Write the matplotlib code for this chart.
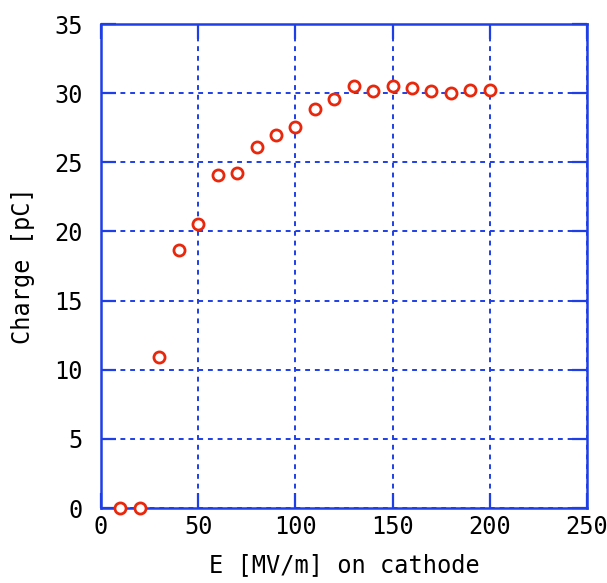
import matplotlib
matplotlib.use("Agg")
import matplotlib.pyplot as plt

E_field = [10, 20, 30, 40, 50, 60, 70, 80, 90, 100, 110, 120, 130, 140, 150, 160, 170, 180, 190, 200]
charge = [0.0, 0.0, 10.9, 18.65, 20.55, 24.1, 24.25, 26.1, 27.0, 27.55, 28.85, 29.6, 30.5, 30.15, 30.55,
          30.35, 30.15, 30.0, 30.2, 30.2]
x_ticks = [0, 50, 100, 150, 200, 250]
y_ticks = [0, 5, 10, 15, 20, 25, 30, 35]

blue = '#1f3fe6'
red = '#e8280c'

fig = plt.figure(figsize=(6.07, 5.83), dpi=100)
ax = fig.add_axes([0.1664, 0.1286, 0.967 - 0.1664, 0.9588 - 0.1286])

ax.plot(E_field, charge, linestyle='none', marker='o', markersize=8,
        markerfacecolor='white', markeredgecolor=red, markeredgewidth=2.0, zorder=3, clip_on=False)

ax.set_xlim(0, 250)
ax.set_ylim(0, 35)
ax.set_xticks(x_ticks)
ax.set_yticks(y_ticks)

font = {'family': 'DejaVu Sans Mono', 'size': 17}
ax.set_xticklabels([str(t) for t in x_ticks], fontdict=font)
ax.set_yticklabels([str(t) for t in y_ticks], fontdict=font)

ax.grid(True, color=blue, linestyle=(0, (2.5, 2.5)), linewidth=1.4)
ax.tick_params(direction='in', length=11, width=1.6, color=blue, top=True, right=True,
               labelcolor='black')
ax.tick_params(axis='x', pad=5)
ax.tick_params(axis='y', pad=13)
for s in ax.spines.values():
    s.set_color(blue)
    s.set_linewidth(1.8)

ax.set_xlabel('E [MV/m] on cathode', fontdict=font, labelpad=10)
ax.set_ylabel('Charge [pC]', fontdict=font, labelpad=14)

fig.savefig('out.png', dpi=100)
